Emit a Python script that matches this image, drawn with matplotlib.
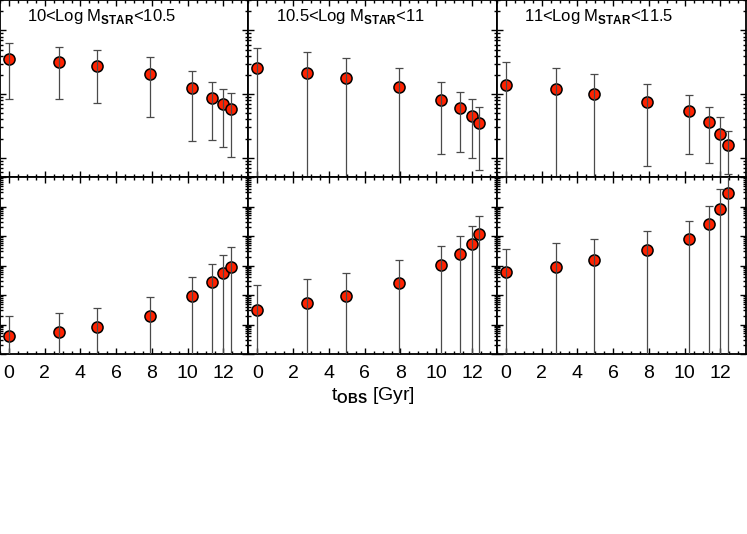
import numpy as np
import matplotlib
matplotlib.use('Agg')
import matplotlib.pyplot as plt
from matplotlib.ticker import MultipleLocator, LogLocator, NullFormatter

plt.rcParams['font.family'] = ['Liberation Sans', 'DejaVu Sans']
plt.rcParams['mathtext.fontset'] = 'custom'
plt.rcParams['mathtext.rm'] = 'Liberation Sans'
plt.rcParams['mathtext.bf'] = 'Liberation Sans:bold'

# tempo de observacao (lookback) de cada ponto
t_obs = [0.0, 2.8, 4.95, 7.9, 10.25, 11.35, 12.0, 12.4]

titulos = [r'10<Log M$_{\bf STAR}$<10.5',
           r'10.5<Log M$_{\bf STAR}$<11',
           r'11<Log M$_{\bf STAR}$<11.5']

FORA = 1e-6  # barra inferior fora da escala

# linha de cima
top_mid = [[3.56, 3.19, 2.79, 2.09, 1.25, 0.869, 0.692, 0.577],
           [2.59, 2.17, 1.81, 1.28, 0.807, 0.598, 0.458, 0.348],
           [1.40, 1.20, 1.01, 0.752, 0.542, 0.361, 0.239, 0.160]]
top_hi = [[6.27, 5.55, 4.92, 3.78, 2.28, 1.55, 1.22, 1.04],
          [5.35, 4.53, 3.69, 2.54, 1.53, 1.08, 0.828, 0.634],
          [3.16, 2.59, 2.09, 1.44, 0.977, 0.634, 0.442, 0.266]]
top_lo = [[0.828, 0.828, 0.724, 0.433, 0.183, 0.188, 0.148, 0.103],
          [FORA, FORA, FORA, FORA, 0.115, 0.125, 0.100, 0.0643],
          [FORA, FORA, FORA, 0.0743, 0.1135, 0.0828, FORA, 0.0556]]

# linha de baixo
bot_mid = [[4.07e-4, 5.57e-4, 8.04e-4, 1.90e-3, 9.25e-3, 0.0276, 0.0545, 0.0910],
           [3.10e-3, 5.24e-3, 9.25e-3, 0.0261, 0.104, 0.245, 0.524, 1.14],
           [0.0587, 0.0910, 0.150, 0.335, 0.791, 2.49, 8.22, 28.7]]
bot_hi = [[1.90e-3, 2.51e-3, 3.71e-3, 8.75e-3, 0.0417, 0.115, 0.232, 0.434],
          [0.0213, 0.0348, 0.0570, 0.150, 0.469, 1.02, 2.18, 4.88],
          [0.371, 0.566, 0.809, 1.51, 3.30, 10.2, 39.2, 158.0]]
bot_lo = [[FORA] * 8, [FORA] * 8, [FORA] * 8]

fig = plt.figure(figsize=(7.47, 5.34), dpi=100)

W = 248.5 / 747
H = 177 / 534
lefts = [0.0, 248.5 / 747, 497 / 747]
bottoms = [(534 - 177) / 534, (534 - 354) / 534]


def painel(ax, mid, hi, lo, ylim):
    mid = np.array(mid)
    yerr = [mid - np.array(lo), np.array(hi) - mid]
    ax.scatter(t_obs, mid, s=64, c='#ff2200', edgecolors='black',
               linewidths=1.1, zorder=3)
    ax.errorbar(t_obs, mid, yerr=yerr, fmt='none', ecolor='#4a4a4a',
                elinewidth=0.9, capsize=3.2, capthick=0.9, zorder=4)
    ax.set_yscale('log')
    ax.set_ylim(*ylim)
    ax.set_xlim(-0.5, 13.4)
    ax.xaxis.set_major_locator(MultipleLocator(2))
    ax.xaxis.set_minor_locator(MultipleLocator(0.5))
    ax.yaxis.set_major_locator(LogLocator(base=10, numticks=30))
    ax.yaxis.set_minor_locator(LogLocator(base=10, subs=np.arange(2, 10),
                                          numticks=30))
    ax.yaxis.set_major_formatter(NullFormatter())
    ax.yaxis.set_minor_formatter(NullFormatter())
    ax.tick_params(which='both', direction='in', top=True, right=True,
                   width=1.0, labelsize=14, pad=8)
    ax.tick_params(which='major', length=4.5)
    ax.tick_params(which='minor', length=2.5)
    for s in ax.spines.values():
        s.set_linewidth(1.3)


for j in range(3):
    ax = fig.add_axes([lefts[j], bottoms[0], W, H])
    painel(ax, top_mid[j], top_hi[j], top_lo[j], (0.05, 30))
    ax.set_xticklabels([])
    ax.text(0.11, 0.905, titulos[j], transform=ax.transAxes,
            fontsize=12, va='center', ha='left')

    ax = fig.add_axes([lefts[j], bottoms[1], W, H])
    painel(ax, bot_mid[j], bot_hi[j], bot_lo[j], (1e-4, 1e2))
    if j == 1:
        ax.set_xlabel(r't$_{\bf OBS}$ [Gyr]', fontsize=14, labelpad=2)

fig.savefig('out.png', dpi=100)
